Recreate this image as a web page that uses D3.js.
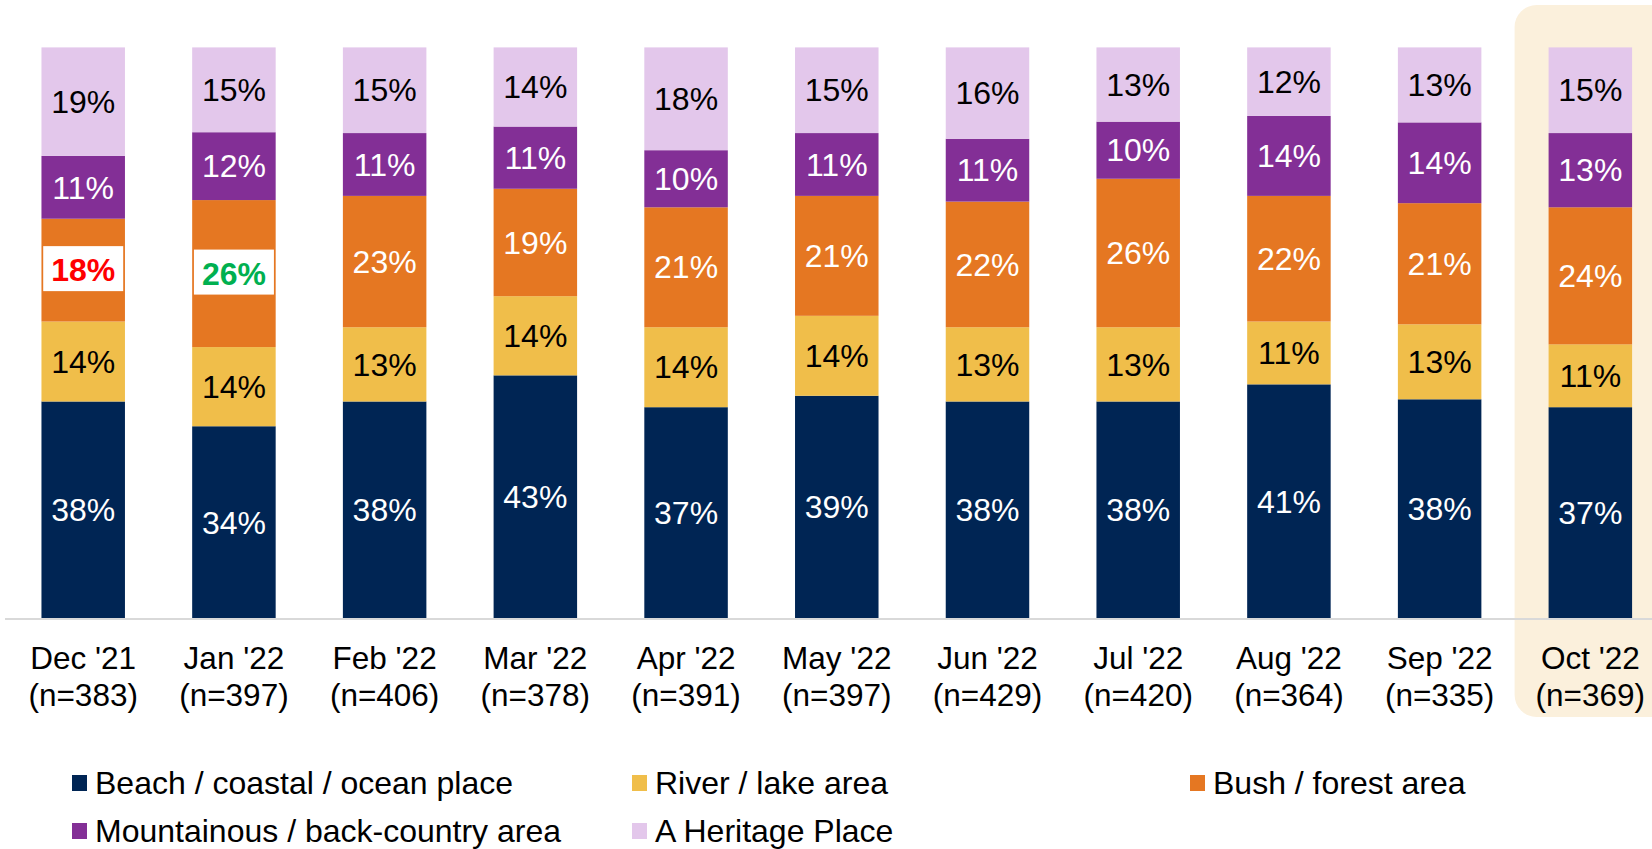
<!DOCTYPE html>
<html>
<head>
<meta charset="utf-8">
<script src="https://cdn.jsdelivr.net/npm/d3@7"></script>
<style>
  html, body { margin: 0; padding: 0; background: #fff; }
  svg { display: block; font-family: "Liberation Sans", Arial, sans-serif; }
</style>
</head>
<body>
<svg id="chart" width="1652" height="849"></svg>
<script>
const months = ["Dec '21", "Jan '22", "Feb '22", "Mar '22", "Apr '22", "May '22", "Jun '22", "Jul '22", "Aug '22", "Sep '22", "Oct '22"];
const sampleSizes = [383, 397, 406, 378, 391, 397, 429, 420, 364, 335, 369];

const beach = [38, 34, 38, 43, 37, 39, 38, 38, 41, 38, 37];
const river = [14, 14, 13, 14, 14, 14, 13, 13, 11, 13, 11];
const bush = [18, 26, 23, 19, 21, 21, 22, 26, 22, 21, 24];
const mountain = [11, 12, 11, 11, 10, 11, 11, 10, 14, 14, 13];
const heritage = [19, 15, 15, 14, 18, 15, 16, 13, 12, 13, 15];

const seriesNames = ["Beach / coastal / ocean place", "River / lake area", "Bush / forest area", "Mountainous / back-country area", "A Heritage Place"];
const seriesKeys = ["beach", "river", "bush", "mountain", "heritage"];
const seriesColors = ["#002554", "#F0BE4A", "#E57722", "#832F96", "#E3C7EB"];
const labelColors = ["#fff", "#000", "#fff", "#fff", "#000"];

// labels called out in a white box
const callouts = [
    { month: "Dec '21", key: "bush", color: "#FF0000" },
    { month: "Jan '22", key: "bush", color: "#00B050" }
];
const highlightMonth = "Oct '22";

const rows = months.map((m, i) => ({
    month: m, n: sampleSizes[i],
    beach: beach[i], river: river[i], bush: bush[i], mountain: mountain[i], heritage: heritage[i]
}));

const svg = d3.select("#chart");

const x = d3.scaleBand()
    .domain(months)
    .range([7.85, 1665.7])
    .paddingInner(0.446)
    .paddingOuter(0.223);

const y = d3.scaleLinear()
    .domain([0, 1])
    .range([618.5, 47.4]);

const color = d3.scaleOrdinal().domain(seriesKeys).range(seriesColors);

// highlight panel behind the last month
svg.append("rect")
    .attr("x", x(highlightMonth) - 34)
    .attr("y", 5)
    .attr("width", 220)
    .attr("height", 712)
    .attr("rx", 22)
    .attr("fill", "#FBF0DC");

const stack = d3.stack()
    .keys(seriesKeys)
    .offset(d3.stackOffsetExpand);
const layers = stack(rows);

const layer = svg.selectAll(".layer")
    .data(layers)
    .enter().append("g")
    .attr("class", "layer")
    .attr("fill", d => color(d.key));

layer.selectAll("rect")
    .data(d => d)
    .enter().append("rect")
    .attr("x", d => x(d.data.month))
    .attr("y", d => y(d[1]))
    .attr("width", x.bandwidth())
    .attr("height", d => y(d[0]) - y(d[1]));

// axis line + two-line month labels
const axis = svg.append("g")
    .attr("transform", `translate(0,${y(0)})`)
    .call(d3.axisBottom(x).tickSize(0).tickFormat(""));
axis.select(".domain")
    .attr("d", "M5,0.5H1652")
    .attr("stroke", "#D9D9D9")
    .attr("stroke-width", 2);

const tickLabels = svg.append("g")
    .selectAll("text")
    .data(rows)
    .enter().append("text")
    .attr("text-anchor", "middle")
    .attr("font-size", 31.5)
    .attr("fill", "#000");
tickLabels.append("tspan")
    .attr("x", d => x(d.month) + x.bandwidth() / 2)
    .attr("y", 669)
    .text(d => d.month);
tickLabels.append("tspan")
    .attr("x", d => x(d.month) + x.bandwidth() / 2)
    .attr("y", 706)
    .text(d => `(n=${d.n})`);

// value labels
const labels = svg.append("g");
layers.forEach((l, si) => {
    l.forEach(d => {
        const cx = x(d.data.month) + x.bandwidth() / 2;
        const cy = (y(d[0]) + y(d[1])) / 2;
        const call = callouts.find(c => c.month === d.data.month && c.key === l.key);
        if (call) {
            labels.append("rect")
                .attr("x", cx - 40)
                .attr("y", cy - 24)
                .attr("width", 80)
                .attr("height", 45)
                .attr("fill", "#fff");
        }
        labels.append("text")
            .attr("x", cx)
            .attr("y", cy)
            .attr("dy", "0.35em")
            .attr("text-anchor", "middle")
            .attr("font-size", 32)
            .attr("font-weight", call ? "bold" : "normal")
            .attr("fill", call ? call.color : labelColors[si])
            .text(d.data[l.key] + "%");
    });
});

// legend
const legendPos = [
    { x: 72, y: 783 }, { x: 632, y: 783 }, { x: 1190, y: 783 },
    { x: 72, y: 831 }, { x: 632, y: 831 }
];
const legend = svg.append("g")
    .selectAll(".legend-item")
    .data(seriesKeys)
    .enter().append("g")
    .attr("class", "legend-item")
    .attr("transform", (d, i) => `translate(${legendPos[i].x},${legendPos[i].y})`);
legend.append("rect")
    .attr("x", 0)
    .attr("y", -8)
    .attr("width", 15)
    .attr("height", 16)
    .attr("fill", d => color(d));
legend.append("text")
    .attr("x", 23)
    .attr("y", 0)
    .attr("dy", "0.35em")
    .attr("font-size", 32)
    .attr("fill", "#000")
    .text((d, i) => seriesNames[i]);
</script>
</body>
</html>
